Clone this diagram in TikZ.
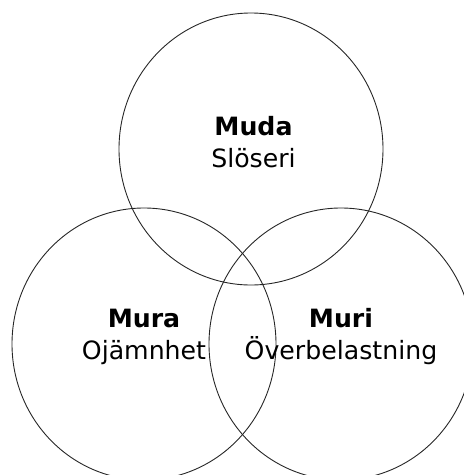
\documentclass[tikz,border=0pt]{standalone}
\usepackage{fontspec}
\setmainfont{DejaVu Sans}
\begin{document}
\begin{tikzpicture}[x=1pt,y=-1pt,
  ring/.style={draw=black!85,line width=0.9pt},
  lbl/.style={anchor=base,align=center,inner sep=0pt,font=\fontsize{25.2}{32}\selectfont}]
\useasboundingbox (0,0) rectangle (464,475);
\clip (0,0) rectangle (464,475);
\draw[ring] (251,149) ellipse [x radius=132pt, y radius=136pt];
\draw[ring] (144,344) ellipse [x radius=132pt, y radius=136pt];
\draw[ring] (341,344) ellipse [x radius=132pt, y radius=136pt];
\node[lbl] (muda) at (253.5,167) {\textbf{Muda}\\Slöseri};
\node[lbl] (mura) at (144,359) {\textbf{Mura}\\Ojämnhet};
\node[lbl] (muri) at (341,359) {\textbf{Muri}\\Överbelastning};
\end{tikzpicture}
\end{document}
